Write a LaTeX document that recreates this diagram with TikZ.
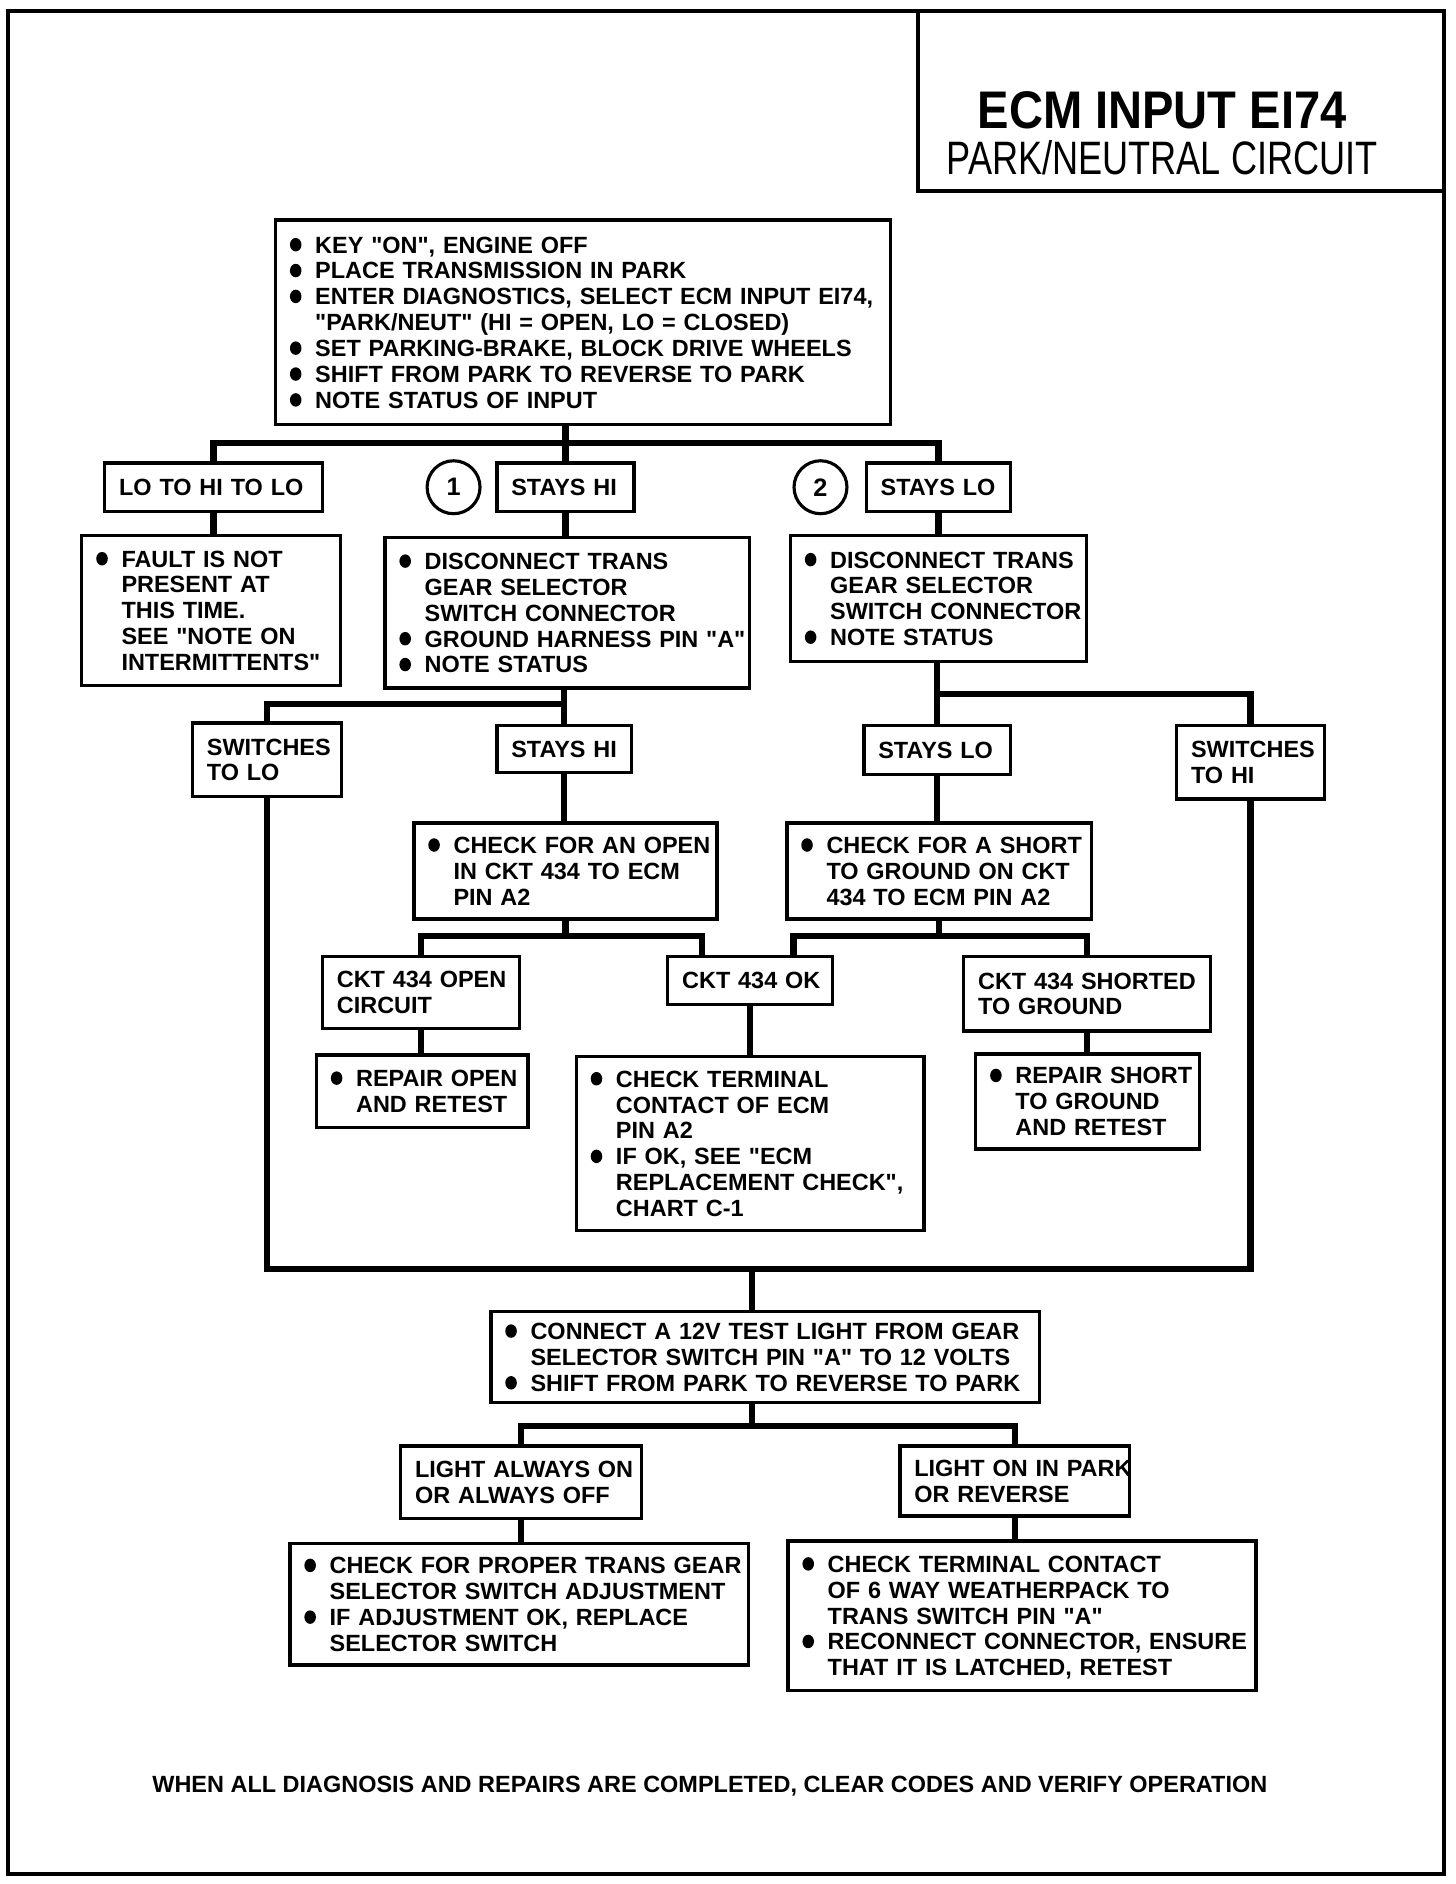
\documentclass[tikz,border=0pt]{standalone}
\usepackage{fontspec}
\setmainfont{Liberation Sans}[Ligatures=TeXOff]
\usepackage{graphicx}
\renewcommand\arraystretch{1}
\newcommand\bul{\makebox[10.5pt][l]{\raisebox{0.7pt}{\tikz\fill (0,0) ellipse (2.4pt and 2.8pt);}}}
\newcommand\ind{\hspace*{10.5pt}}
\tikzset{
  box/.style={draw, line width=1.4pt, rectangle, inner ysep=0pt, inner xsep=6pt,
    font=\fontsize{9.75}{10.75}\selectfont\bfseries, align=left},
  conn/.style={line width=2.6pt},
  circ/.style={draw, circle, line width=1.3pt, minimum size=22pt, inner sep=0pt,
    font=\fontsize{10.5}{11}\selectfont\bfseries},
  frame/.style={line width=1.6pt}
}
\newcommand\bx[6]{%
  \pgfmathsetmacro\bxw{(#4-#2)*0.5-12}%
  \pgfmathsetmacro\bxh{(#5-#3)*0.5}%
  \node[box, text width=\bxw pt, minimum height=\bxh pt] (#1) at ({(#2+#4)/2},{(#3+#5)/2})
    {\noindent\raisebox{-1.3pt}[\height][\depth]{\begin{tabular}{@{}l@{}}#6\end{tabular}}};}
\begin{document}
\begin{tikzpicture}[x=0.5pt,y=-0.5pt]
\useasboundingbox (0,0) rectangle (1210,1566);
% frame and title
\draw[frame] (7,9) rectangle (1200,1558);
\draw[frame] (763,9) -- (763,159) -- (1200,159);
\node[anchor=base, inner sep=0pt, font=\fontsize{22}{24}\selectfont\bfseries] (title) at (966,107)
  {\scalebox{0.89}[1]{ECM INPUT EI74}};
\node[anchor=base, inner sep=0pt, font=\fontsize{19.5}{22}\selectfont] (subtitle) at (966,145)
  {\scalebox{0.77}[1]{PARK/NEUTRAL CIRCUIT}};

% boxes
\bx{top}{229}{183}{740}{353}{\bul KEY "ON", ENGINE OFF\\
\bul PLACE TRANSMISSION IN PARK\\
\bul ENTER DIAGNOSTICS, SELECT ECM INPUT EI74,\\
\ind "PARK/NEUT" (HI = OPEN, LO = CLOSED)\\
\bul SET PARKING-BRAKE, BLOCK DRIVE WHEELS\\
\bul SHIFT FROM PARK TO REVERSE TO PARK\\
\bul NOTE STATUS OF INPUT}
\bx{lohi}{87}{385}{268}{425}{LO TO HI TO LO}
\bx{hi1}{413}{385}{527}{425}{STAYS HI}
\bx{lo1}{720}{385}{840}{425}{STAYS LO}
\node[circ] (c1) at (377,405) {1};
\node[circ] (c2) at (682,405) {2};
\bx{fault}{68}{445}{283}{570}{\bul FAULT IS NOT\\ \ind PRESENT AT\\ \ind THIS TIME.\\ \ind SEE "NOTE ON\\ \ind INTERMITTENTS"}
\bx{disc1}{320}{447}{623}{572}{\bul DISCONNECT TRANS\\ \ind GEAR SELECTOR\\ \ind SWITCH CONNECTOR\\ \bul GROUND HARNESS PIN "A"\\ \bul NOTE STATUS}
\bx{disc2}{657}{445}{903}{550}{\bul DISCONNECT TRANS\\ \ind GEAR SELECTOR\\ \ind SWITCH CONNECTOR\\ \bul NOTE STATUS}
\bx{swlo}{160}{601}{284}{662}{SWITCHES\\TO LO}
\bx{hi2}{413}{603}{525}{642}{STAYS HI}
\bx{lo2}{718}{603}{840}{644}{STAYS LO}
\bx{swhi}{978}{603}{1101}{664}{SWITCHES\\TO HI}
\bx{chkopen}{344}{684}{596}{764}{\bul CHECK FOR AN OPEN\\ \ind IN CKT 434 TO ECM\\ \ind PIN A2}
\bx{chkshort}{654}{684}{907}{764}{\bul CHECK FOR A SHORT\\ \ind TO GROUND ON CKT\\ \ind 434 TO ECM PIN A2}
\bx{open}{268}{795}{432}{855}{CKT 434 OPEN\\CIRCUIT}
\bx{ok}{555}{795}{692}{835}{CKT 434 OK}
\bx{shorted}{801}{795}{1006}{857}{CKT 434 SHORTED\\TO GROUND}
\bx{repopen}{263}{877}{439}{937}{\bul REPAIR OPEN\\ \ind AND RETEST}
\bx{term}{479}{878}{768}{1023}{\bul CHECK TERMINAL\\ \ind CONTACT OF ECM\\ \ind PIN A2\\ \bul IF OK, SEE "ECM\\ \ind REPLACEMENT CHECK",\\ \ind CHART C-1}
\bx{repshort}{811}{876}{997}{955}{\bul REPAIR SHORT\\ \ind TO GROUND\\ \ind AND RETEST}
\bx{connect}{408}{1090}{864}{1166}{\bul CONNECT A 12V TEST LIGHT FROM GEAR\\ \ind SELECTOR SWITCH PIN "A" TO 12 VOLTS\\ \bul SHIFT FROM PARK TO REVERSE TO PARK}
\bx{always}{333}{1202}{533}{1262}{LIGHT ALWAYS ON\\OR ALWAYS OFF}
\bx{park}{748}{1202}{939}{1260}{LIGHT ON IN PARK\\OR REVERSE}
\bx{proper}{241}{1283}{622}{1384}{\bul CHECK FOR PROPER TRANS GEAR\\ \ind SELECTOR SWITCH ADJUSTMENT\\ \bul IF ADJUSTMENT OK, REPLACE\\ \ind SELECTOR SWITCH}
\bx{weather}{655}{1281}{1044}{1405}{\bul CHECK TERMINAL CONTACT\\ \ind OF 6 WAY WEATHERPACK TO\\ \ind TRANS SWITCH PIN "A"\\ \bul RECONNECT CONNECTOR, ENSURE\\ \ind THAT IT IS LATCHED, RETEST}
\node[anchor=base, inner sep=0pt, font=\fontsize{9.75}{10.75}\selectfont\bfseries] (footer) at (590,1490)
  {WHEN ALL DIAGNOSIS AND REPAIRS ARE COMPLETED, CLEAR CODES AND VERIFY OPERATION};

% bus coordinates
\coordinate (bus1) at (0,368);
\coordinate (bus2) at (0,585);
\coordinate (bus3) at (0,577);
\coordinate (bus4) at (0,778);
\coordinate (bus5) at (0,1055);
\coordinate (bus6) at (0,1185);
\coordinate (okL) at ([xshift=-20pt]ok.north);
\coordinate (okR) at ([xshift=18pt]ok.north);
\coordinate (conT) at ([xshift=-5.5pt]connect.north);
\coordinate (conB) at ([xshift=-5.5pt]connect.south);

% connectors
\draw[conn] (hi1.north |- top.south) -- (hi1.north);
\draw[conn] (lohi.north) -- (lohi.north |- bus1) -- (lo1.north |- bus1) -- (lo1.north);
\draw[conn] (lohi.south) -- (lohi.south |- fault.north);
\draw[conn] (hi1.south) -- (hi1.south |- disc1.north);
\draw[conn] (lo1.south) -- (lo1.south |- disc2.north);
\draw[conn] (hi2.north |- disc1.south) -- (hi2.north);
\draw[conn] (swlo.north) -- (swlo.north |- bus2) -- (hi2.north |- bus2);
\draw[conn] (lo2.north |- disc2.south) -- (lo2.north);
\draw[conn] (lo2.north |- bus3) -- (swhi.north |- bus3) -- (swhi.north);
\draw[conn] (hi2.south) -- (hi2.south |- chkopen.north);
\draw[conn] (lo2.south) -- (lo2.south |- chkshort.north);
\draw[conn] (chkopen.south) -- (chkopen.south |- bus4);
\draw[conn] (open.north) -- (open.north |- bus4) -- (okL |- bus4) -- (okL);
\draw[conn] (chkshort.south) -- (chkshort.south |- bus4);
\draw[conn] (okR) -- (okR |- bus4) -- (shorted.north |- bus4) -- (shorted.north);
\draw[conn] (open.south) -- (open.south |- repopen.north);
\draw[conn] (ok.south) -- (ok.south |- term.north);
\draw[conn] (shorted.south) -- (shorted.south |- repshort.north);
\draw[conn] (swlo.south) -- (swlo.south |- bus5) -- (swhi.south |- bus5) -- (swhi.south);
\draw[conn] (conT |- bus5) -- (conT);
\draw[conn] (conB) -- (conB |- bus6);
\draw[conn] (always.north) -- (always.north |- bus6) -- (park.north |- bus6) -- (park.north);
\draw[conn] (always.south) -- (always.south |- proper.north);
\draw[conn] (park.south) -- (park.south |- weather.north);
\end{tikzpicture}
\end{document}
